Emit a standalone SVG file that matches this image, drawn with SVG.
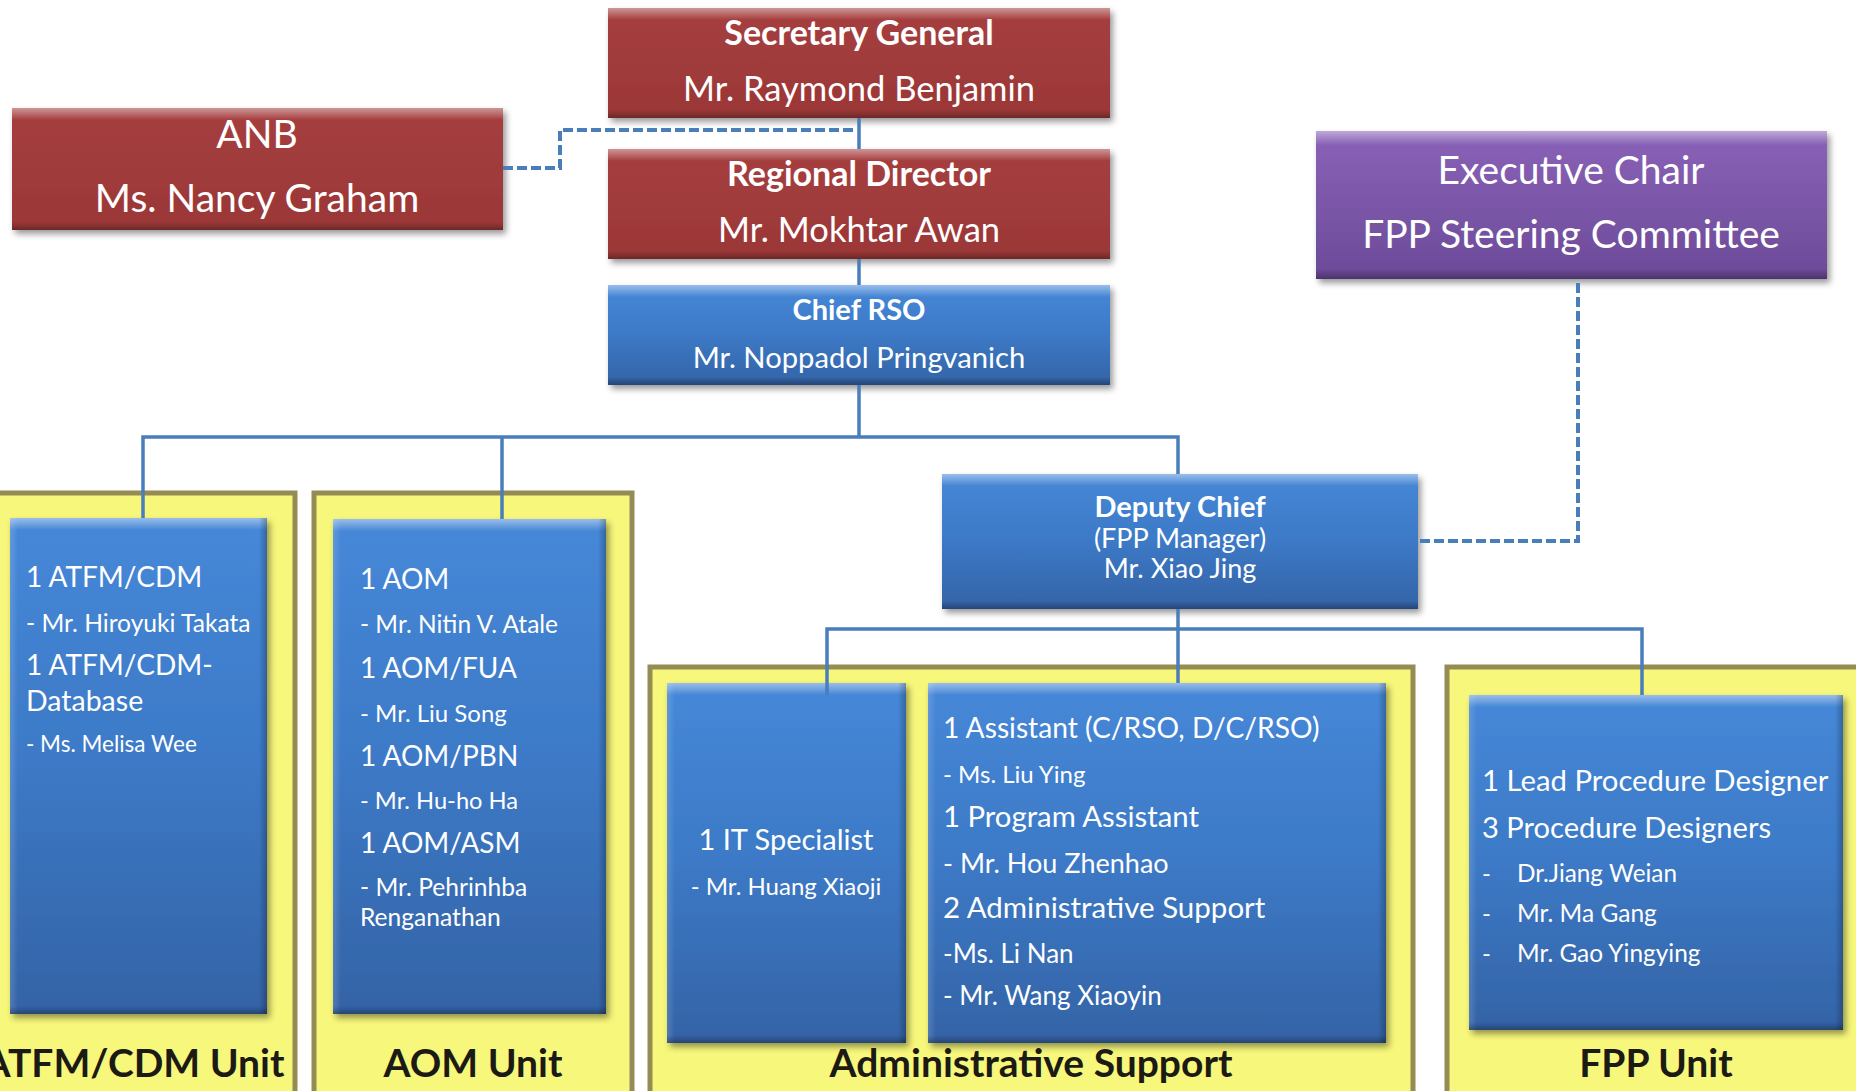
<svg xmlns="http://www.w3.org/2000/svg" width="1856" height="1091" viewBox="0 0 1856 1091">
<defs>
  <linearGradient id="gRed" x1="0" y1="0" x2="0" y2="1">
    <stop offset="0" stop-color="#a63f3f"/>
    <stop offset="1" stop-color="#9b3737"/>
  </linearGradient>
  <linearGradient id="gBlue" x1="0" y1="0" x2="0" y2="1">
    <stop offset="0" stop-color="#4688d8"/>
    <stop offset="0.5" stop-color="#3c79c6"/>
    <stop offset="1" stop-color="#3463a6"/>
  </linearGradient>
  <linearGradient id="gPurple" x1="0" y1="0" x2="0" y2="1">
    <stop offset="0" stop-color="#8a62b8"/>
    <stop offset="1" stop-color="#6c4a98"/>
  </linearGradient>
  <linearGradient id="gTop" x1="0" y1="0" x2="0" y2="1">
    <stop offset="0" stop-color="#ffffff" stop-opacity="0.45"/>
    <stop offset="1" stop-color="#ffffff" stop-opacity="0"/>
  </linearGradient>
  <linearGradient id="gBot" x1="0" y1="0" x2="0" y2="1">
    <stop offset="0" stop-color="#000000" stop-opacity="0"/>
    <stop offset="1" stop-color="#000000" stop-opacity="0.3"/>
  </linearGradient>
  <linearGradient id="gLeft" x1="0" y1="0" x2="1" y2="0">
    <stop offset="0" stop-color="#ffffff" stop-opacity="0.15"/>
    <stop offset="1" stop-color="#ffffff" stop-opacity="0"/>
  </linearGradient>
  <linearGradient id="gRight" x1="0" y1="0" x2="1" y2="0">
    <stop offset="0" stop-color="#000000" stop-opacity="0"/>
    <stop offset="1" stop-color="#000000" stop-opacity="0.25"/>
  </linearGradient>
  <filter id="shadow" x="-5%" y="-5%" width="115%" height="120%">
    <feDropShadow dx="3" dy="4" stdDeviation="3" flood-color="#000" flood-opacity="0.4"/>
  </filter>
</defs>
<style>
  .red { fill: url(#gRed); filter: url(#shadow); }
  .blue { fill: url(#gBlue); filter: url(#shadow); }
  .purple { fill: url(#gPurple); filter: url(#shadow); }
  .bt { fill: url(#gTop); }
  .bb { fill: url(#gBot); }
  .bl { fill: url(#gLeft); }
  .br { fill: url(#gRight); }
  .unit { fill: #f7f77b; stroke: #958b55; stroke-width: 5; }
  .conn { fill: none; stroke: #4a7ebb; stroke-width: 3.5; }
  .dash { fill: none; stroke: #4a7ebb; stroke-width: 4; stroke-dasharray: 10 4; }
  text { font-family: Lato, "Liberation Sans", sans-serif; fill: #ffffff; }
  .c { text-anchor: middle; }
  .b { font-weight: bold; }
  .ul { fill: #1c1a14; font-weight: bold; font-size: 39px; text-anchor: middle; }
</style>

<g id="containers">
  <rect id="unit-atfm" class="unit" x="-23" y="493" width="318" height="640"/>
  <rect id="unit-aom" class="unit" x="314" y="493" width="318" height="640"/>
  <rect id="unit-admin" class="unit" x="650" y="667" width="763" height="460"/>
  <rect id="unit-fpp" class="unit" x="1447" y="667" width="440" height="460"/>
</g>

<g id="sg">
  <rect class="red" x="608" y="8" width="502" height="110"/>
  <rect class="bt" x="608" y="8" width="502" height="12"/>
  <rect class="bb" x="608" y="110" width="502" height="8"/>
  <text class="c b" x="859" y="45" font-size="34">Secretary General</text>
  <text class="c" x="859" y="101" font-size="34.5">Mr. Raymond Benjamin</text>
</g>

<g id="anb">
  <rect class="red" x="12" y="108" width="491" height="122"/>
  <rect class="bt" x="12" y="108" width="491" height="12"/>
  <rect class="bb" x="12" y="222" width="491" height="8"/>
  <text class="c" x="257" y="148" font-size="39">ANB</text>
  <text class="c" x="257" y="212" font-size="39">Ms. Nancy Graham</text>
</g>

<g id="rd">
  <rect class="red" x="608" y="149" width="502" height="110"/>
  <rect class="bt" x="608" y="149" width="502" height="12"/>
  <rect class="bb" x="608" y="251" width="502" height="8"/>
  <text class="c b" x="859" y="186" font-size="34">Regional Director</text>
  <text class="c" x="859" y="242" font-size="34.5">Mr. Mokhtar Awan</text>
</g>

<g id="chief">
  <rect class="blue" x="608" y="285" width="502" height="100"/>
  <rect class="bt" x="608" y="285" width="502" height="12"/>
  <rect class="bb" x="608" y="377" width="502" height="8"/>
  <text class="c b" x="859" y="320" font-size="29">Chief RSO</text>
  <text class="c" x="859" y="368" font-size="29.2">Mr. Noppadol Pringvanich</text>
</g>

<g id="exec">
  <rect class="purple" x="1316" y="131" width="511" height="148"/>
  <rect class="bt" x="1316" y="131" width="511" height="14"/>
  <rect class="bb" x="1316" y="269" width="511" height="10"/>
  <text class="c" x="1571" y="184" font-size="39">Executive Chair</text>
  <text class="c" x="1571" y="248" font-size="39">FPP Steering Committee</text>
</g>

<g id="deputy">
  <rect class="blue" x="942" y="474" width="476" height="135"/>
  <rect class="bt" x="942" y="474" width="476" height="12"/>
  <rect class="bb" x="942" y="601" width="476" height="8"/>
  <text class="c b" x="1180" y="517" font-size="29">Deputy Chief</text>
  <text class="c" x="1180" y="548" font-size="27">(FPP Manager)</text>
  <text class="c" x="1180" y="578" font-size="27">Mr. Xiao Jing</text>
</g>

<g id="atfm">
  <rect class="blue" x="10" y="518" width="257" height="496"/>
  <rect class="bt" x="10" y="518" width="257" height="12"/>
  <rect class="bl" x="10" y="518" width="8" height="496"/>
  <rect class="br" x="259" y="518" width="8" height="496"/>
  <rect class="bb" x="10" y="1006" width="257" height="8"/>
  <text x="26" y="587" font-size="28">1 ATFM/CDM</text>
  <text x="26" y="632" font-size="24.6">- Mr. Hiroyuki Takata</text>
  <text x="26" y="675" font-size="28">1 ATFM/CDM-</text>
  <text x="26" y="711" font-size="28.5">Database</text>
  <text x="26" y="752" font-size="22.5">- Ms. Melisa Wee</text>
</g>

<g id="aom">
  <rect class="blue" x="333" y="519" width="273" height="495"/>
  <rect class="bt" x="333" y="519" width="273" height="12"/>
  <rect class="bl" x="333" y="519" width="8" height="495"/>
  <rect class="br" x="598" y="519" width="8" height="495"/>
  <rect class="bb" x="333" y="1006" width="273" height="8"/>
  <text x="360" y="589" font-size="28">1 AOM</text>
  <text x="360" y="633" font-size="24.5">- Mr. Nitin V. Atale</text>
  <text x="360" y="678" font-size="28">1 AOM/FUA</text>
  <text x="360" y="722" font-size="24">- Mr. Liu Song</text>
  <text x="360" y="766" font-size="28">1 AOM/PBN</text>
  <text x="360" y="809" font-size="23.7">- Mr. Hu-ho Ha</text>
  <text x="360" y="853" font-size="28">1 AOM/ASM</text>
  <text x="360" y="896" font-size="24.6">- Mr. Pehrinhba</text>
  <text x="360" y="926" font-size="24.6">Renganathan</text>
</g>

<g id="it">
  <rect class="blue" x="667" y="683" width="239" height="360"/>
  <rect class="bt" x="667" y="683" width="239" height="12"/>
  <rect class="bl" x="667" y="683" width="8" height="360"/>
  <rect class="br" x="898" y="683" width="8" height="360"/>
  <rect class="bb" x="667" y="1035" width="239" height="8"/>
  <text class="c" x="786" y="850" font-size="29">1 IT Specialist</text>
  <text class="c" x="786" y="895" font-size="24">- Mr. Huang Xiaoji</text>
</g>

<g id="assistant">
  <rect class="blue" x="928" y="683" width="458" height="360"/>
  <rect class="bt" x="928" y="683" width="458" height="12"/>
  <rect class="bl" x="928" y="683" width="8" height="360"/>
  <rect class="br" x="1378" y="683" width="8" height="360"/>
  <rect class="bb" x="928" y="1035" width="458" height="8"/>
  <text x="943" y="738" font-size="28.2">1 Assistant (C/RSO, D/C/RSO)</text>
  <text x="943" y="783" font-size="24">- Ms. Liu Ying</text>
  <text x="943" y="827" font-size="29.3">1 Program Assistant</text>
  <text x="943" y="873" font-size="27">- Mr. Hou Zhenhao</text>
  <text x="943" y="918" font-size="29.5">2 Administrative Support</text>
  <text x="943" y="963" font-size="26">-Ms. Li Nan</text>
  <text x="943" y="1005" font-size="26">- Mr. Wang Xiaoyin</text>
</g>

<g id="fpp">
  <rect class="blue" x="1469" y="695" width="374" height="335"/>
  <rect class="bt" x="1469" y="695" width="374" height="12"/>
  <rect class="bl" x="1469" y="695" width="8" height="335"/>
  <rect class="br" x="1835" y="695" width="8" height="335"/>
  <rect class="bb" x="1469" y="1022" width="374" height="8"/>
  <text x="1482" y="791" font-size="29.3">1 Lead Procedure Designer</text>
  <text x="1482" y="838" font-size="29.1">3 Procedure Designers</text>
  <text x="1482" y="882" font-size="24">-</text>
  <text x="1517" y="882" font-size="24.3">Dr.Jiang Weian</text>
  <text x="1482" y="922" font-size="24">-</text>
  <text x="1517" y="922" font-size="24.5">Mr. Ma Gang</text>
  <text x="1482" y="962" font-size="24">-</text>
  <text x="1517" y="962" font-size="24.4">Mr. Gao Yingying</text>
</g>

<g id="unit-labels">
  <text class="ul" x="134" y="1077">ATFM/CDM Unit</text>
  <text class="ul" x="473" y="1077" font-size="38">AOM Unit</text>
  <text class="ul" x="1031" y="1077" font-size="40">Administrative Support</text>
  <text class="ul" x="1656" y="1077">FPP Unit</text>
</g>

<g id="connectors">
  <path class="conn" d="M859 118 V149 M859 259 V285 M859 385 V437"/>
  <path class="conn" d="M143 518 V437 H1178 V474 M502 437 V519"/>
  <path class="conn" d="M1178 609 V683 M827 695 V629 H1642 V695"/>
  <path class="dash" d="M503 168 H560 V130 H857"/>
  <path class="dash" d="M1578 283 V541 H1418"/>
</g>
</svg>
